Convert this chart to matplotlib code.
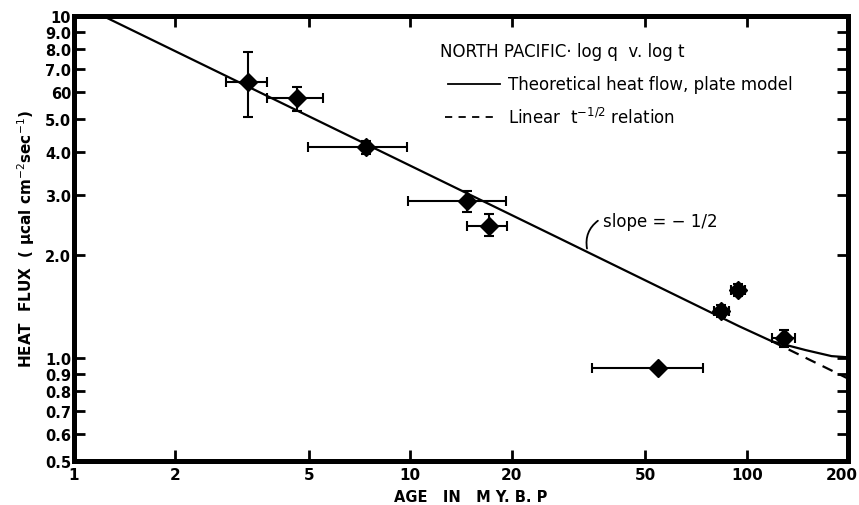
import matplotlib
matplotlib.use("Agg")
import matplotlib.pyplot as plt
import matplotlib.transforms as mtransforms

plt.rcParams['font.family'] = ['DejaVu Sans']

# Data points (age in m.y., heat flux)
age = [3.28, 4.59, 7.40, 14.76, 17.16, 83.7, 94.0, 128.8, 54.4]
flux = [6.42, 5.77, 4.15, 2.87, 2.43, 1.37, 1.58, 1.144, 0.935]
age_lo = [2.84, 3.74, 4.95, 9.85, 14.76, 79.8, 90.0, 118.6, 34.7]
age_hi = [3.74, 5.48, 9.80, 19.3, 19.4, 88.4, 98.6, 138.8, 74.0]
flux_lo = [5.08, 5.28, 3.96, 2.68, 2.27, 1.32, 1.52, 1.08, 0.935]
flux_hi = [7.85, 6.21, 4.32, 3.07, 2.63, 1.43, 1.65, 1.21, 0.935]

# Theoretical plate model curve
plate_age = [1.22, 27.7, 94.7, 118.6, 149.6, 178.7, 200]
plate_q = [10.0, 2.24, 1.24, 1.12, 1.055, 1.013, 1.005]
# Linear t^-1/2 relation (dashed)
lin_age = [118.6, 200]
lin_q = [1.12, 0.871]

yticks = [0.5, 0.6, 0.7, 0.8, 0.9, 1.0, 2.0, 3.0, 4.0, 5.0, 6.0, 7.0, 8.0, 9.0, 10]
ytick_labels = ["0.5", "0.6", "0.7", "0.8", "0.9", "1.0", "2.0", "3.0", "4.0",
                "5.0", "60", "7.0", "8.0", "9.0", "10"]
xticks = [1, 2, 5, 10, 20, 50, 100, 200]
xtick_labels = ["1", "2", "5", "10", "20", "50", "100", "200"]

fig = plt.figure(figsize=(8.59, 5.06), dpi=100)
ax = fig.add_axes([74/859, 1-462/506, 774/859, 445/506])
ax.set_xscale('log')
ax.set_yscale('log')
ax.set_xlim(1, 200)
ax.set_ylim(0.5, 10)

ax.plot(plate_age, plate_q, color='black', lw=1.6, solid_capstyle='butt')
ax.plot(lin_age, lin_q, color='black', lw=1.6, ls=(0, (5, 3.5)))

xerr = [[a - l for a, l in zip(age, age_lo)], [h - a for a, h in zip(age, age_hi)]]
yerr = [[f - l for f, l in zip(flux, flux_lo)], [h - f for f, h in zip(flux, flux_hi)]]
ax.errorbar(age, flux, xerr=xerr, yerr=yerr, fmt='D', color='black', ms=9,
            elinewidth=1.5, capsize=3.5, capthick=1.5, zorder=3)

ax.set_xticks(xticks)
ax.set_xticklabels(xtick_labels, fontsize=11, fontweight='bold')
ax.set_yticks(yticks)
ax.set_yticklabels(ytick_labels, fontsize=10.5, fontweight='bold')
ax.minorticks_off()
ax.tick_params(which='major', direction='in', top=True, right=True,
               length=8, width=2, pad=4)
ax.tick_params(axis='y', pad=2)
for s in ax.spines.values():
    s.set_linewidth(3.6)

# keep the last x tick label inside the figure
last = ax.get_xticklabels()[-1]
last.set_transform(last.get_transform() +
                   mtransforms.ScaledTranslation(-6/100, 0, fig.dpi_scale_trans))

ax.set_ylabel("HEAT  FLUX  ( μcal cm$^{-2}$sec$^{-1}$)", fontsize=11,
              fontweight='bold', labelpad=6)
fig.text(471/859, 1-498/506, "AGE   IN   M Y. B. P", ha='center', va='center',
         fontsize=10.5, fontweight='bold')

# Legend (hand drawn as in the original)
ax.text(0.473, 0.921, "NORTH PACIFIC· log q  v. log t", transform=ax.transAxes,
        fontsize=12, va='center', ha='left')
ax.plot([0.483, 0.550], [0.847, 0.847], transform=ax.transAxes, color='black', lw=1.3)
ax.text(0.561, 0.847, "Theoretical heat flow, plate model", transform=ax.transAxes,
        fontsize=12, va='center', ha='left')
ax.plot([0.479, 0.546], [0.773, 0.773], transform=ax.transAxes, color='black', lw=1.3,
        ls=(0, (4, 3.5)))
ax.text(0.561, 0.773, "Linear  t$^{-1/2}$ relation", transform=ax.transAxes,
        fontsize=12, va='center', ha='left')

# slope annotation with curved leader
ax.text(37.3, 2.51, "slope = − 1/2", fontsize=12, va='center', ha='left')
ax.annotate("", xy=(33.5, 2.09), xytext=(36.1, 2.52),
            arrowprops=dict(arrowstyle='-', connectionstyle='arc3,rad=0.3', lw=1.3,
                            shrinkA=0, shrinkB=0))

fig.savefig("out.png", dpi=100)
